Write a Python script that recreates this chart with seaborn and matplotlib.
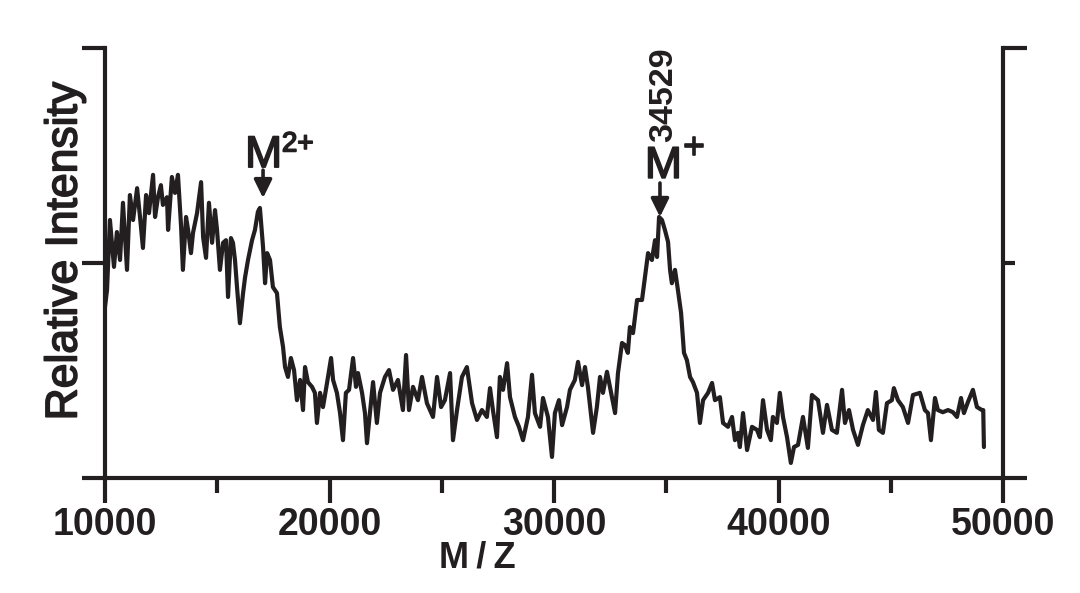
import matplotlib
matplotlib.use('Agg')
import matplotlib.pyplot as plt
import matplotlib.patheffects as pe
import seaborn as sns
import pandas as pd

sns.set_style('ticks')
plt.rcParams['font.family'] = ['Liberation Sans', 'DejaVu Sans']

INK = '#231f20'

# spectrum: m/z and relative intensity (0..100 = axis bottom..top)
mz = [10000, 10090, 10220, 10400, 10530, 10670, 10800, 10980, 11110, 11250,
      11430, 11560, 11690, 11830, 11960, 12140, 12230, 12360, 12490, 12580,
      12760, 12810, 12980, 13120, 13250, 13390, 13470, 13610, 13700, 13830,
      13920, 14100, 14280, 14370, 14500, 14630, 14770, 14900, 14990, 15120,
      15260, 15390, 15480, 15610, 15700, 15790, 15880, 16010, 16150, 16240,
      16370, 16550, 16680, 16810, 16900, 17040, 17130, 17220, 17350, 17480,
      17660, 17790, 17930, 18020, 18150, 18280, 18420, 18550, 18690, 18820,
      18910, 19040, 19220, 19350, 19440, 19580, 19710, 19890, 20070, 20160,
      20330, 20470, 20600, 20730, 20870, 21050, 21180, 21270, 21450, 21580,
      21670, 21800, 21940, 22110, 22250, 22470, 22650, 22830, 23050, 23270,
      23410, 23540, 23720, 23940, 24120, 24340, 24610, 24790, 24970, 25140,
      25370, 25500, 25680, 25900, 26120, 26350, 26570, 26790, 27010, 27150,
      27280, 27460, 27590, 27730, 27910, 28040, 28260, 28440, 28620, 28840,
      29020, 29150, 29380, 29510, 29730, 29910, 30040, 30220, 30360, 30580,
      30710, 30930, 31070, 31250, 31380, 31510, 31740, 31910, 32050, 32180,
      32360, 32580, 32720, 32850, 33030, 33160, 33290, 33380, 33520, 33700,
      33920, 34050, 34190, 34360, 34500, 34590, 34680, 34810, 34940, 35080,
      35170, 35250, 35390, 35520, 35660, 35790, 35920, 36060, 36190, 36370,
      36500, 36640, 36860, 37040, 37170, 37390, 37530, 37750, 37930, 38060,
      38190, 38280, 38420, 38600, 38820, 39040, 39170, 39310, 39490, 39660,
      39750, 39930, 40060, 40200, 40380, 40550, 40690, 40870, 41090, 41310,
      41490, 41760, 41980, 42160, 42380, 42600, 42830, 42960, 43140, 43320,
      43540, 43760, 43980, 44210, 44340, 44470, 44650, 44830, 45050, 45140,
      45320, 45540, 45770, 45990, 46300, 46520, 46660, 46790, 46970, 47100,
      47320, 47550, 47770, 47950, 48130, 48260, 48440, 48660, 48840, 49060,
      49120, 49150]
intensity = [39.8, 43.7, 60.0, 49.1, 57.2, 50.7, 64.0, 48.4, 65.8, 60.0,
             67.4, 60.7, 53.5, 65.8, 61.6, 70.5, 60.7, 65.3, 68.1, 63.5,
             65.3, 57.7, 70.0, 66.3, 70.5, 58.4, 48.4, 60.7, 57.7, 52.3,
             57.0, 61.6, 68.8, 56.0, 51.2, 64.0, 54.7, 62.3, 57.7, 48.4,
             54.7, 55.3, 42.1, 55.8, 54.7, 50.7, 44.4, 36.0, 43.0, 46.7,
             50.7, 55.3, 57.7, 61.9, 62.8, 53.7, 45.3, 52.3, 50.7, 44.4,
             43.0, 35.1, 30.5, 25.8, 23.5, 27.9, 25.1, 18.1, 22.8, 15.8,
             25.8, 22.3, 21.2, 19.8, 12.8, 19.8, 16.5, 22.1, 27.9, 22.8,
             19.8, 15.1, 8.8, 19.8, 20.5, 27.9, 21.2, 24.4, 19.8, 15.1,
             8.1, 15.1, 22.3, 12.8, 19.8, 23.5, 25.1, 20.5, 22.8, 15.8,
             28.6, 15.8, 21.2, 18.1, 23.5, 17.4, 14.2, 23.5, 16.5, 18.1,
             24.4, 8.8, 15.8, 23.5, 25.8, 17.4, 13.5, 15.8, 14.2, 20.9,
             15.8, 9.5, 23.5, 20.5, 26.7, 18.8, 14.2, 11.9, 8.8, 14.2,
             24.0, 15.1, 11.9, 18.6, 14.2, 4.9, 15.1, 18.1, 12.3, 16.5,
             20.5, 22.8, 27.0, 21.6, 25.8, 21.2, 10.5, 16.5, 23.5, 19.8,
             24.7, 18.8, 15.1, 24.4, 31.4, 30.9, 29.1, 35.1, 33.7, 41.4,
             41.4, 46.7, 52.3, 50.7, 55.3, 51.4, 60.7, 60.0, 57.7, 54.9,
             48.4, 45.3, 48.4, 43.7, 38.4, 29.1, 27.4, 23.5, 22.3, 19.8,
             12.8, 18.1, 19.8, 22.1, 18.1, 18.8, 12.8, 11.9, 14.2, 8.8,
             10.5, 7.2, 15.1, 6.5, 11.9, 11.2, 9.5, 18.1, 11.2, 8.8,
             14.2, 12.8, 19.8, 14.2, 9.5, 3.5, 7.2, 7.7, 14.2, 7.0,
             19.3, 18.1, 10.5, 17.0, 11.2, 10.5, 20.5, 12.8, 15.8, 11.2,
             7.7, 12.3, 15.8, 13.5, 20.0, 11.2, 10.5, 17.4, 18.1, 20.9,
             18.1, 16.5, 12.8, 19.3, 19.8, 15.8, 15.1, 8.8, 18.6, 15.8,
             15.3, 15.8, 15.3, 14.2, 18.6, 15.1, 17.7, 20.5, 16.5, 15.8,
             15.8, 7.2]

x_major = [10000, 20000, 30000, 40000, 50000]
x_minor = [15000, 25000, 35000, 45000]
x_labels = ['10000', '20000', '30000', '40000', '50000']

df = pd.DataFrame({'mz': mz, 'intensity': intensity})

fig = plt.figure(figsize=(10.8, 5.93), dpi=100)
ax = fig.add_axes([105 / 1080, 1 - 478 / 593, 898 / 1080, 430 / 593])

sns.lineplot(data=df, x='mz', y='intensity', ax=ax, color=INK, lw=3.0,
             estimator=None, sort=False, solid_joinstyle='round',
             solid_capstyle='round')

ax.set_xlim(10000, 50000)
ax.set_ylim(0, 100)
ax.set_xlabel('')
ax.set_ylabel('')

for side in ['top', 'right']:
    ax.spines[side].set_visible(False)
for side in ['left', 'bottom']:
    ax.spines[side].set_linewidth(3)
    ax.spines[side].set_color(INK)

ax.set_xticks(x_major)
ax.set_xticklabels(x_labels, fontsize=27, fontweight='bold', color=INK)
ax.set_xticks(x_minor, minor=True)
ax.tick_params(axis='x', which='major', direction='out', length=18, width=3,
               color=INK, pad=3)
ax.tick_params(axis='x', which='minor', direction='out', length=11, width=3,
               color=INK)

ax.set_yticks([0, 50, 100])
ax.set_yticklabels([])
ax.tick_params(axis='y', which='major', direction='out', length=16.5, width=3,
               color=INK)

# right-hand axis: long ticks at the ends, a short one in the middle
ax2 = ax.twinx()
ax2.set_ylim(0, 100)
for side in ['top', 'left', 'bottom']:
    ax2.spines[side].set_visible(False)
ax2.spines['right'].set_linewidth(3)
ax2.spines['right'].set_color(INK)
ax2.set_yticks([0, 100])
ax2.set_yticks([50], minor=True)
ax2.set_yticklabels([])
ax2.tick_params(axis='y', which='major', direction='out', length=17, width=3,
                color=INK)
ax2.tick_params(axis='y', which='minor', direction='out', length=8.6, width=3,
                color=INK)

# slightly heavier strokes for the regular-weight texts
thick = [pe.withStroke(linewidth=1.2, foreground=INK)]

# peak labels
arrow = dict(arrowstyle='-|>,head_length=0.55,head_width=0.27', lw=2.6,
             color=INK, mutation_scale=20, shrinkA=0, shrinkB=0)
ax.annotate('', xy=(17040, 65.1), xytext=(17040, 71.6), arrowprops=arrow)
ax.annotate('', xy=(34720, 60.7), xytext=(34720, 68.6), arrowprops=arrow)

ax.text(16240, 72.3, 'M', fontsize=32, color=INK, ha='left', va='baseline',
        path_effects=thick)
ax.text(17880, 80.6, '2+', fontsize=20, color=INK, ha='left', va='top',
        path_effects=thick)
ax.text(34050, 69.8, 'M', fontsize=32, color=INK, ha='left', va='baseline',
        path_effects=thick)
ax.text(35760, 76.7, '+', fontsize=26, color=INK, ha='left', va='center',
        path_effects=thick)
ax.text(34900, 89.1, '34529', fontsize=24.5, fontweight='bold', color=INK,
        rotation=90, ha='center', va='center')

fig.text(65 / 1080, 1 - 251 / 593, 'Relative Intensity', fontsize=32,
         color=INK, rotation=90, ha='center', va='center', path_effects=thick)
fig.text(477 / 1080, 1 - 558 / 593, 'M\u2009/\u2009Z', fontsize=26,
         fontweight='bold', color=INK, ha='center', va='center')

fig.savefig('out.png', dpi=100)
